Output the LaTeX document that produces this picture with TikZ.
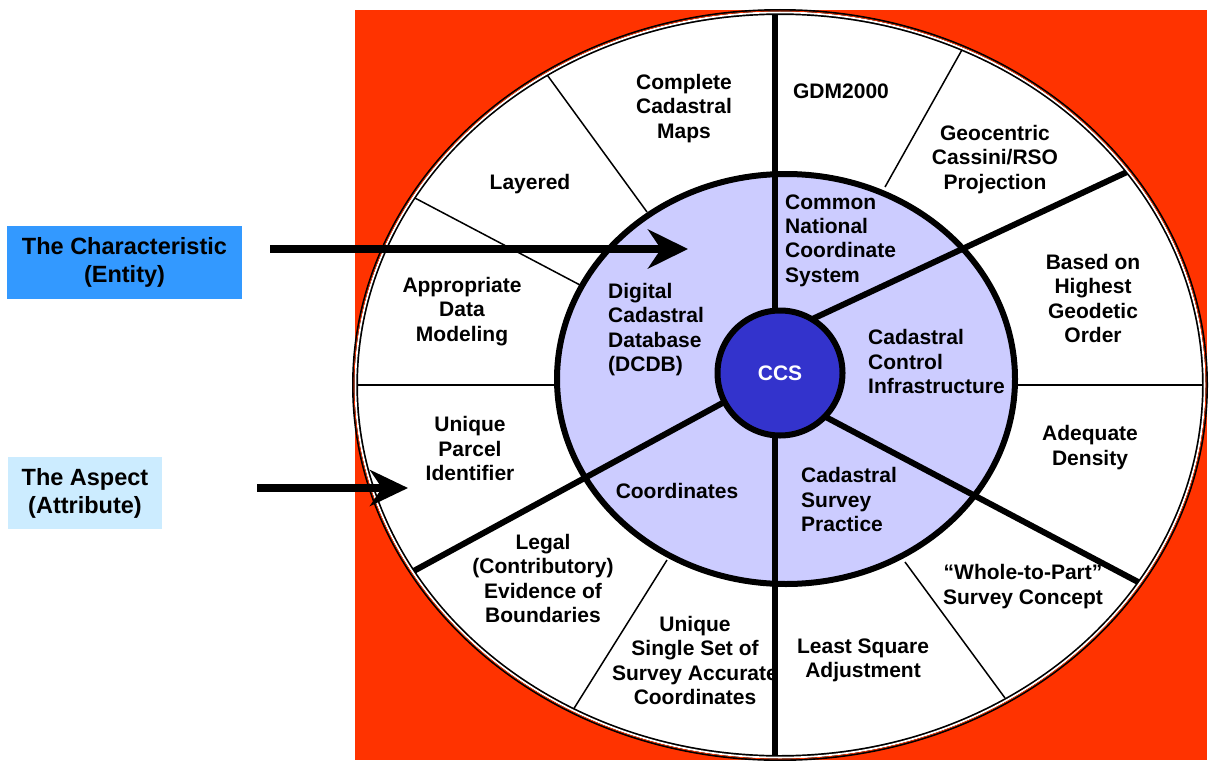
\documentclass[tikz,border=0pt]{standalone}
\usepackage{fontspec}
\setmainfont{Liberation Sans}
\usetikzlibrary{arrows.meta}
\definecolor{bgred}{RGB}{255,51,0}
\definecolor{lav}{RGB}{204,204,255}
\definecolor{ccsblue}{RGB}{51,51,204}
\definecolor{entblue}{RGB}{51,153,255}
\definecolor{attblue}{RGB}{204,236,255}
\begin{document}
\begin{tikzpicture}[x=1pt,y=-1pt,
  ringtxt/.style={font=\fontsize{21}{24.3}\selectfont\bfseries, align=center, inner sep=0pt, yshift=-1.5pt},
  coretxt/.style={ringtxt, align=left, anchor=west},
  spoke/.style={line width=6pt, line cap=butt},
  divider/.style={line width=1.5pt},
  labelbox/.style={font=\fontsize{23.5}{28}\selectfont\bfseries, align=center, inner sep=0pt},
  pointer/.style={line width=7.5pt}
]
\useasboundingbox (0,0) rectangle (1209,760);

% background panel
\fill[bgred] (355,10) rectangle (1207,760);

% outer wheel
\coordinate (oc) at (780,385);
\fill[white] (oc) ellipse [x radius=425pt, y radius=373pt];

% thin dividers of the outer ring
\coordinate (d1o) at (545,72);   \coordinate (d1i) at (647,212);
\coordinate (d2o) at (413,197);  \coordinate (d2i) at (580,285);
\coordinate (d3o) at (355,385);  \coordinate (d3i) at (557,385);
\coordinate (d4o) at (1205,385); \coordinate (d4i) at (1015,385);
\coordinate (d5o) at (963,48);   \coordinate (d5i) at (885,187);
\coordinate (d6o) at (1005,698); \coordinate (d6i) at (905,562);
\coordinate (d7o) at (573,710);  \coordinate (d7i) at (667,560);
\foreach \k in {1,...,7} \draw[divider] (d\k o) -- (d\k i);

% inner ring
\coordinate (ic) at (786,379);
\filldraw[fill=lav, line width=6pt] (ic) ellipse [x radius=229pt, y radius=205pt];

% thick spokes
\coordinate (s1o) at (775,12);   \coordinate (s1i) at (775,330);
\coordinate (s2o) at (1127,172); \coordinate (s2i) at (806,322);
\coordinate (s3o) at (1140,583); \coordinate (s3i) at (820,414);
\coordinate (s4o) at (775,760);  \coordinate (s4i) at (775,420);
\coordinate (s5o) at (410,573);  \coordinate (s5i) at (728,400);
\foreach \k in {1,...,5} \draw[spoke] (s\k o) -- (s\k i);

% outer rim: black band with a white and a red hairline
\draw[line width=6pt] (oc) ellipse [x radius=425pt, y radius=373pt];
\draw[white, line width=1.8pt] (oc) ellipse [x radius=424.6pt, y radius=372.6pt];
\draw[bgred, line width=0.7pt] (oc) ellipse [x radius=426pt, y radius=374pt];

% hub
\node[circle, fill=ccsblue, draw, line width=6pt, minimum size=125pt, inner sep=0pt,
      text=white, font=\fontsize{21}{24}\selectfont\bfseries] (ccs) at (780,373) {CCS};

% outer ring texts
\node[ringtxt] (t1) at (684,107) {Complete\\Cadastral\\Maps};
\node[ringtxt] (t2) at (530,183) {Layered};
\node[ringtxt] (t3) at (462,310) {Appropriate\\Data\\Modeling};
\node[ringtxt] (t4) at (470,447) {Unique\\Parcel\\Identifier};
\node[ringtxt] (t5) at (543,577) {Legal\\(Contributory)\\Evidence of\\Boundaries};
\node[ringtxt] (t6) at (695,659) {Unique\\Single Set of\\Survey Accurate\\Coordinates};
\node[ringtxt] (t7) at (863,659) {Least Square\\Adjustment};
\node[ringtxt] (t8) at (1023,585) {“Whole-to-Part”\\Survey Concept};
\node[ringtxt] (t9) at (1090,446) {Adequate\\Density};
\node[ringtxt] (t10) at (1093,297) {Based on\\Highest\\Geodetic\\Order};
\node[ringtxt] (t11) at (995,158) {Geocentric\\Cassini/RSO\\Projection};
\node[ringtxt] (t12) at (841,90) {GDM2000};

% inner ring texts
\node[coretxt] (c1) at (785,239) {Common\\National\\Coordinate\\System};
\node[coretxt] (c2) at (868,360) {Cadastral\\Control\\Infrastructure};
\node[coretxt] (c3) at (801,498) {Cadastral\\Survey\\Practice};
\node[ringtxt]  (c4) at (677,489) {Coordinates};
\node[coretxt] (c5) at (608,328) {Digital\\Cadastral\\Database\\(DCDB)};

% legend boxes and pointers
\node[labelbox, fill=entblue, minimum width=235pt, minimum height=73pt] (entity) at (124.5,262.5) {The Characteristic\\(Entity)};
\node[labelbox, fill=attblue, minimum width=154pt, minimum height=72pt] (attr) at (85,493) {The Aspect\\(Attribute)};

\coordinate (entTail) at (270,249); \coordinate (entTip) at (688,249);
\coordinate (attTail) at (257,488); \coordinate (attTip) at (408,488);
\draw[pointer, -{Stealth[length=40pt, width=39pt, inset=13pt]}] (entTail) -- (entTip);
\draw[pointer, -{Stealth[length=38pt, width=36pt, inset=12pt]}] (attTail) -- (attTip);
\end{tikzpicture}
\end{document}
